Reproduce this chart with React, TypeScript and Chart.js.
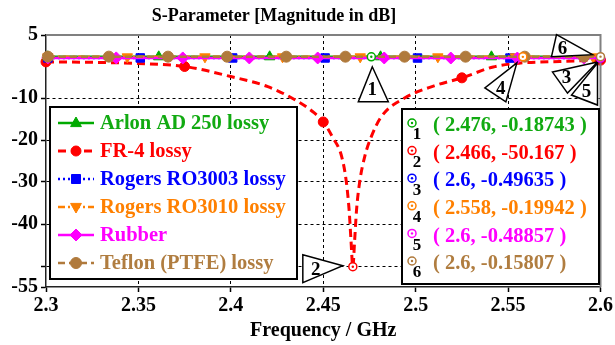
import React, { useEffect, useRef } from "react";
import { Chart, registerables } from "chart.js";

Chart.register(...registerables);

// ---------- data ----------
const seriesNames = [
  "Arlon AD 250 lossy",
  "FR-4 lossy",
  "Rogers RO3003 lossy",
  "Rogers RO3010 lossy",
  "Rubber",
  "Teflon (PTFE) lossy",
];

const arlonX = [2.301, 2.361, 2.421, 2.481, 2.541, 2.6];
const arlonY = [-0.2, -0.19, -0.19, -0.19, -0.19, -0.19];

const fr4X = [
  2.3, 2.325, 2.35, 2.375, 2.4, 2.42, 2.435, 2.445, 2.45, 2.455, 2.46, 2.4625, 2.464, 2.465,
  2.466, 2.467, 2.468, 2.4697, 2.4724, 2.476, 2.4815, 2.494, 2.51, 2.525, 2.542, 2.556, 2.578, 2.6,
];
const fr4Y = [
  -1.4, -1.5, -1.8, -2.5, -4.9, -7.3, -10.5, -13.5, -15.7, -19.3, -24, -30, -36.7, -43.8,
  -50.167, -43.8, -36.7, -30, -24, -19.2, -14.4, -10, -7.1, -5.2, -2.6, -1.7, -1.3, -1.0,
];
const fr4MarkerX = [2.3, 2.375, 2.45, 2.525, 2.6];

const ro3003X = [2.301, 2.351, 2.401, 2.451, 2.501, 2.551, 2.6];
const ro3003Y = [-0.45, -0.46, -0.47, -0.47, -0.48, -0.49, -0.5];

const ro3010X = [2.301, 2.344, 2.386, 2.428, 2.47, 2.512, 2.554, 2.596, 2.6];
const ro3010Y = [-0.2, -0.2, -0.2, -0.2, -0.2, -0.2, -0.2, -0.2, -0.2];

const rubberX = [2.301, 2.338, 2.374, 2.41, 2.447, 2.483, 2.519, 2.555, 2.591, 2.6];
const rubberY = [-0.45, -0.45, -0.46, -0.46, -0.47, -0.47, -0.48, -0.48, -0.49, -0.49];

const teflonX = [2.301, 2.334, 2.366, 2.398, 2.43, 2.462, 2.494, 2.527, 2.559, 2.591, 2.6];
const teflonY = [-0.15, -0.15, -0.15, -0.16, -0.16, -0.16, -0.16, -0.16, -0.16, -0.16, -0.16];

const xTicks = [2.3, 2.35, 2.4, 2.45, 2.5, 2.55, 2.6];
const yTicks = [5, -10, -20, -30, -40, -50, -55];
const yTickLabels = ["5", "-10", "-20", "-30", "-40", "", "-55"];

const markerNums = ["1", "2", "3", "4", "5", "6"];
const markerX = [2.476, 2.466, 2.6, 2.558, 2.6, 2.6];
const markerY = [-0.18743, -50.167, -0.49635, -0.19942, -0.48857, -0.15807];
const markerSeries = [0, 1, 2, 3, 4, 5];

// ---------- styles ----------
const FONT = "'Liberation Serif', 'Times New Roman', serif";
const colors = ["#00aa00", "#ff0000", "#0000ff", "#ff8000", "#ff00ff", "#b07a3c"];
const textColors = ["#11aa11", "#ff0000", "#0000ff", "#ff8000", "#ff00ff", "#b07d40"];
const dashes = [[], [8, 5], [2, 3], [7, 3, 2, 3], [], [7, 4]];
const pStyles = ["triangle", "circle", "rect", "triangleDown", "rectRot", "circle"];
const pRadius = [6, 5, 6, 6, 6, 5.5];
const lWidths = [2.5, 3, 2.5, 2.5, 2.5, 2.5];
const orders = [3, 5, 4, 2, 1, 0];

// callout triangles offsets relative to marker pixel: [apex, p2, p3], label offset
const callouts = [
  { pts: [[1, 10], [-13, 45], [17, 45]], lab: [1, 33] },
  { pts: [[-10, -1], [-50, -12], [-50, 16]], lab: [-37, 3] },
  { pts: [[-3, 4], [-48, 14], [-33, 35]], lab: [-34, 20] },
  { pts: [[-6, 6], [-38, 31], [-17, 45]], lab: [-22, 32] },
  { pts: [[-3, 5], [-29, 37], [-3, 47]], lab: [-14, 34] },
  { pts: [[-8, -2], [-44, -22], [-49, 0]], lab: [-38, -8] },
];

function drawShape(ctx: CanvasRenderingContext2D, style: string, x: number, y: number, r: number, color: string) {
  ctx.save();
  ctx.fillStyle = color;
  ctx.strokeStyle = color;
  ctx.setLineDash([]);
  ctx.lineWidth = 1;
  ctx.beginPath();
  if (style === "circle") {
    ctx.arc(x, y, r, 0, Math.PI * 2);
  } else if (style === "rect") {
    const s = r * 0.75;
    ctx.rect(x - s, y - s, 2 * s, 2 * s);
  } else if (style === "rectRot") {
    ctx.moveTo(x, y - r);
    ctx.lineTo(x + r, y);
    ctx.lineTo(x, y + r);
    ctx.lineTo(x - r, y);
    ctx.closePath();
  } else if (style === "triangle") {
    ctx.moveTo(x, y - r);
    ctx.lineTo(x + r * 0.9, y + r * 0.6);
    ctx.lineTo(x - r * 0.9, y + r * 0.6);
    ctx.closePath();
  } else if (style === "triangleDown") {
    ctx.moveTo(x, y + r);
    ctx.lineTo(x + r * 0.9, y - r * 0.6);
    ctx.lineTo(x - r * 0.9, y - r * 0.6);
    ctx.closePath();
  }
  ctx.fill();
  ctx.stroke();
  ctx.restore();
}

function drawMarkerIcon(ctx: CanvasRenderingContext2D, x: number, y: number, color: string) {
  ctx.save();
  ctx.setLineDash([]);
  ctx.beginPath();
  ctx.arc(x, y, 4, 0, Math.PI * 2);
  ctx.fillStyle = "#fff";
  ctx.fill();
  ctx.lineWidth = 1.5;
  ctx.strokeStyle = color;
  ctx.stroke();
  ctx.beginPath();
  ctx.arc(x, y, 1.2, 0, Math.PI * 2);
  ctx.fillStyle = color;
  ctx.fill();
  ctx.restore();
}

const overlayPlugin = {
  id: "overlay",
  afterDatasetsDraw(chart: any) {
    const { ctx, chartArea } = chart;
    const { left, top, right, bottom } = chartArea;
    const xs = chart.scales.x;
    const ys = chart.scales.y;
    ctx.save();
    // frame (top/right)
    ctx.strokeStyle = "#808080";
    ctx.lineWidth = 2;
    ctx.setLineDash([]);
    ctx.beginPath();
    ctx.moveTo(left, top);
    ctx.lineTo(right, top);
    ctx.lineTo(right, bottom);
    ctx.stroke();

    // title
    ctx.fillStyle = "#000";
    ctx.font = `bold 18px ${FONT}`;
    ctx.textAlign = "center";
    ctx.textBaseline = "middle";
    ctx.fillText("S-Parameter [Magnitude in dB]", 274, 16);

    // callouts
    markerX.forEach((mx, i) => {
      const px = xs.getPixelForValue(mx);
      const py = ys.getPixelForValue(markerY[i]);
      const c = callouts[i];
      ctx.beginPath();
      ctx.moveTo(px + c.pts[0][0], py + c.pts[0][1]);
      ctx.lineTo(px + c.pts[1][0], py + c.pts[1][1]);
      ctx.lineTo(px + c.pts[2][0], py + c.pts[2][1]);
      ctx.closePath();
      ctx.fillStyle = "#fff";
      ctx.fill();
      ctx.strokeStyle = "#000";
      ctx.lineWidth = 1.5;
      ctx.stroke();
      ctx.fillStyle = "#000";
      ctx.font = `bold 19px ${FONT}`;
      ctx.fillText(markerNums[i], px + c.lab[0], py + c.lab[1]);
    });
    markerX.forEach((mx, i) => {
      const px = xs.getPixelForValue(mx);
      const py = ys.getPixelForValue(markerY[i]);
      drawMarkerIcon(ctx, px, py, colors[markerSeries[i]]);
    });

    // legend box
    const lx = left + 4, ly = top + 72, lw = 247, lh = 172;
    ctx.fillStyle = "#fff";
    ctx.fillRect(lx, ly, lw, lh);
    ctx.strokeStyle = "#000";
    ctx.lineWidth = 2;
    ctx.strokeRect(lx, ly, lw, lh);
    seriesNames.forEach((name, i) => {
      const ry = ly + 16 + i * 28;
      ctx.save();
      ctx.strokeStyle = colors[i];
      ctx.lineWidth = lWidths[i];
      ctx.setLineDash(dashes[i]);
      ctx.beginPath();
      ctx.moveTo(lx + 8, ry);
      ctx.lineTo(lx + 44, ry);
      ctx.stroke();
      ctx.restore();
      drawShape(ctx, pStyles[i], lx + 26, ry, pRadius[i], colors[i]);
      ctx.fillStyle = textColors[i];
      ctx.font = `bold 20.5px ${FONT}`;
      ctx.textAlign = "left";
      ctx.textBaseline = "middle";
      ctx.fillText(name, lx + 50, ry + 1);
    });

    // marker value box
    const ax = left + 356, ay = top + 74, aw = 197, ah = 175;
    ctx.fillStyle = "#fff";
    ctx.fillRect(ax, ay, aw, ah);
    ctx.strokeStyle = "#000";
    ctx.lineWidth = 2;
    ctx.strokeRect(ax, ay, aw, ah);
    markerX.forEach((mx, i) => {
      const ry = ay + 16 + i * 27.6;
      const col = colors[markerSeries[i]];
      drawMarkerIcon(ctx, ax + 10, ry - 2, col);
      ctx.fillStyle = "#000";
      ctx.font = `bold 17px ${FONT}`;
      ctx.textAlign = "center";
      ctx.textBaseline = "middle";
      ctx.fillText(markerNums[i], ax + 15, ry + 10);
      ctx.fillStyle = textColors[markerSeries[i]];
      ctx.font = `bold 20.5px ${FONT}`;
      ctx.textAlign = "left";
      ctx.fillText(`( ${mx}, ${markerY[i]} )`, ax + 31, ry + 1);
    });
    ctx.restore();
  },
};

function mk(xsArr: number[], ysArr: number[]) {
  return xsArr.map((x, i) => ({ x, y: ysArr[i] }));
}

export default function App() {
  const ref = useRef<HTMLCanvasElement>(null);
  useEffect(() => {
    document.body.style.margin = "0";
    const allX = [arlonX, fr4X, ro3003X, ro3010X, rubberX, teflonX];
    const allY = [arlonY, fr4Y, ro3003Y, ro3010Y, rubberY, teflonY];
    const datasets = seriesNames.map((name, i) => {
      const xsArr = allX[i];
      const radiusFn = (c: any) => {
        const idx = c.dataIndex;
        if (i === 1) return fr4MarkerX.includes(xsArr[idx]) ? pRadius[i] : 0;
        return idx < xsArr.length - 1 ? pRadius[i] : 0;
      };
      return {
        label: name,
        data: mk(xsArr, allY[i]),
        borderColor: colors[i],
        backgroundColor: colors[i],
        borderWidth: lWidths[i],
        borderDash: dashes[i],
        pointStyle: pStyles[i] === "triangleDown" ? "triangle" : pStyles[i],
        rotation: pStyles[i] === "triangleDown" ? 180 : 0,
        pointRadius: radiusFn,
        pointBorderWidth: 1,
        pointBackgroundColor: colors[i],
        pointBorderColor: colors[i],
        cubicInterpolationMode: i === 1 ? "monotone" : "default",
        tension: 0,
        order: orders[i],
        clip: false,
      };
    });
    const tickFont = { family: FONT, size: 20, weight: "bold" as const };
    const chart = new Chart(ref.current as HTMLCanvasElement, {
      type: "line",
      data: { datasets: datasets as any },
      plugins: [overlayPlugin],
      options: {
        responsive: false,
        animation: false,
        events: [],
        layout: { padding: { top: 35, right: 14, left: 0, bottom: 0 } },
        plugins: { legend: { display: false }, title: { display: false }, tooltip: { enabled: false } },
        scales: {
          x: {
            type: "linear",
            min: 2.3,
            max: 2.6,
            afterBuildTicks: (s: any) => {
              s.ticks = xTicks.map((v) => ({ value: v }));
            },
            afterFit: (s: any) => {
              s.height = 58;
            },
            ticks: {
              font: tickFont,
              color: "#000",
              padding: 2,
              maxRotation: 0,
              autoSkip: false,
              callback: (v: any) => String(Number(Number(v).toFixed(2))),
            },
            grid: {
              color: (c: any) =>
                c.tick && c.tick.value > 2.3001 && c.tick.value < 2.5999 ? "#000" : "rgba(0,0,0,0)",
              lineWidth: 1,
              tickLength: 5,
              tickColor: "#000",
              tickWidth: 1.5,
            },
            border: { display: true, color: "#222", width: 1.5, dash: [3, 3] },
            title: {
              display: true,
              text: "Frequency / GHz",
              font: tickFont,
              color: "#000",
              padding: { top: 0, bottom: 2 },
            },
          },
          y: {
            type: "linear",
            min: -55,
            max: 5,
            afterBuildTicks: (s: any) => {
              s.ticks = yTicks.map((v) => ({ value: v }));
            },
            afterFit: (s: any) => {
              s.width = 46;
            },
            ticks: {
              font: tickFont,
              color: "#000",
              padding: 3,
              autoSkip: false,
              callback: (_v: any, i: number) => yTickLabels[i],
            },
            grid: {
              color: (c: any) =>
                c.tick && c.tick.value > -54.9 && c.tick.value < 4.9 ? "#000" : "rgba(0,0,0,0)",
              lineWidth: 1,
              tickLength: 5,
              tickColor: "#000",
              tickWidth: 1.5,
            },
            border: { display: true, color: "#222", width: 1.5, dash: [3, 3] },
          },
        },
      } as any,
    });
    return () => chart.destroy();
  }, []);
  return (
    <div style={{ width: 615, height: 345 }}>
      <canvas ref={ref} width={615} height={345} style={{ display: "block" }} />
    </div>
  );
}
